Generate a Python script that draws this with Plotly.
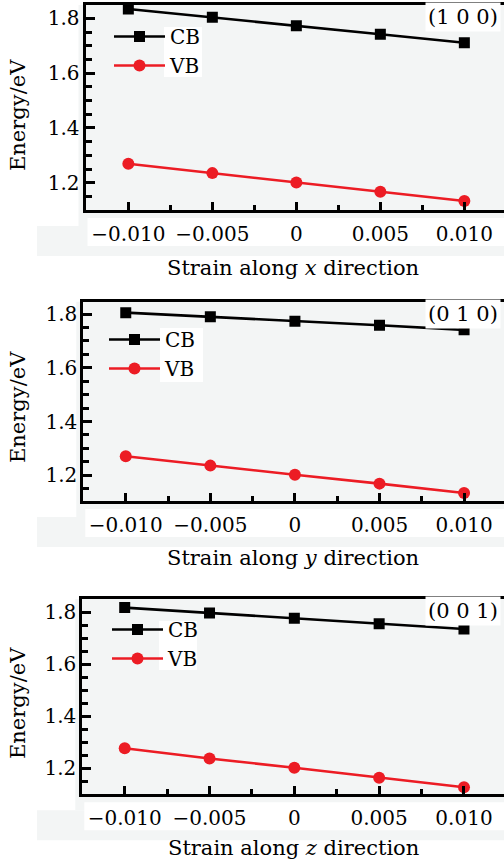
import plotly.graph_objects as go

W, H = 504, 863

# ---- data ----
strain = [-0.010, -0.005, 0.0, 0.005, 0.010]
x_tickvals = [-0.010, -0.005, 0.0, 0.005, 0.010]
x_ticktext = ["\u22120.010", "\u22120.005", "0", "0.005", "0.010"]
y_tickvals = [1.2, 1.4, 1.6, 1.8]
y_ticktext = ["1.2", "1.4", "1.6", "1.8"]

cb_100 = [1.834, 1.804, 1.773, 1.742, 1.711]
vb_100 = [1.269, 1.235, 1.201, 1.167, 1.133]
cb_010 = [1.805, 1.790, 1.773, 1.758, 1.741]
vb_010 = [1.271, 1.236, 1.202, 1.169, 1.134]
cb_001 = [1.818, 1.797, 1.777, 1.756, 1.736]
vb_001 = [1.277, 1.238, 1.202, 1.164, 1.127]

directions = ["x", "y", "z"]
panel_labels = ["(1 0 0)", "(0 1 0)", "(0 0 1)"]
cb_series = [cb_100, cb_010, cb_001]
vb_series = [vb_100, vb_010, vb_001]

# ---- geometry (pixels) ----
panels = [
    dict(left=85.5, top=5, bottom=210, xr=[-0.01255, 0.01236], yr=[1.1004, 1.8486],
         leg=(109, 17), box=(164, 27, 202, 77), title_y=268, ytitle_y=115),
    dict(left=83.3, top=301.7, bottom=501, xr=[-0.01251, 0.01236], yr=[1.1044, 1.8458],
         leg=(104, 320), box=(160, 328, 203, 382), title_y=558, ytitle_y=407),
    dict(left=82.3, top=599, bottom=794.3, xr=[-0.01250, 0.01236], yr=[1.1000, 1.8511],
         leg=(107, 610), box=(159, 621, 197, 670), title_y=848, ytitle_y=703),
]

FONT = "DejaVu Serif"
FS_TICK = 20
FS = 21
FS_LEG = 20
RED = "#ec1c24"
GRAY = "#f3f5f5"


def px_x(x):
    return x / W


def px_y(y):
    return 1 - y / H


fig = go.Figure()
shapes = []
annotations = []

for i, p in enumerate(panels):
    n = "" if i == 0 else str(i + 1)
    xa, ya = "x" + n, "y" + n
    leg = "legend" if i == 0 else "legend" + str(i + 1)

    fig.add_trace(go.Scatter(
        x=strain, y=cb_series[i], mode="lines+markers", name="CB",
        line=dict(color="black", width=2.6),
        marker=dict(symbol="square", size=11, color="black"),
        xaxis=xa, yaxis=ya, legend=leg))
    fig.add_trace(go.Scatter(
        x=strain, y=vb_series[i], mode="lines+markers", name="VB",
        line=dict(color=RED, width=2.6),
        marker=dict(symbol="circle", size=12, color=RED),
        xaxis=xa, yaxis=ya, legend=leg))

    xaxis = dict(
        domain=[px_x(p["left"]), 1], range=p["xr"], anchor=ya,
        showline=True, linewidth=3, linecolor="black", mirror=True,
        ticks="inside", ticklen=8, tickwidth=2.5, tickcolor="black",
        tickmode="array", tickvals=x_tickvals, ticktext=x_ticktext,
        minor=dict(ticks="inside", ticklen=5, tickwidth=2.5, tickcolor="black",
                   tickmode="linear", tick0=0, dtick=0.0025),
        showgrid=False, zeroline=False, ticklabelstandoff=4,
        tickfont=dict(family=FONT, size=FS_TICK, color="black"),
    )
    yaxis = dict(
        domain=[px_y(p["bottom"]), px_y(p["top"])], range=p["yr"], anchor=xa,
        showline=True, linewidth=3, linecolor="black", mirror=False,
        ticks="inside", ticklen=9, tickwidth=2.5, tickcolor="black",
        tickmode="array", tickvals=y_tickvals, ticktext=y_ticktext,
        minor=dict(ticks="inside", ticklen=6, tickwidth=2.5, tickcolor="black",
                   tickmode="linear", tick0=0, dtick=0.05),
        showgrid=False, zeroline=False, ticklabelstandoff=-1,
        tickfont=dict(family=FONT, size=FS_TICK, color="black"),
    )
    fig.update_layout(**{"xaxis" + n: xaxis, "yaxis" + n: yaxis})

    lx, ly = p["leg"]
    fig.update_layout(**{leg: dict(
        x=px_x(lx), y=px_y(ly), xanchor="left", yanchor="top",
        bgcolor="rgba(0,0,0,0)", font=dict(family=FONT, size=FS_LEG, color="black"),
        itemwidth=51, tracegroupgap=0)})

    # background patches (scanned-figure look)
    b = p["bottom"]
    shapes.append(dict(type="rect", xref="paper", yref="paper", layer="below",
                       x0=px_x(37), x1=1, y0=px_y(b + 46), y1=px_y(b + 16),
                       fillcolor=GRAY, line_width=0))
    shapes.append(dict(type="rect", xref="paper", yref="paper", layer="below",
                       x0=px_x(p["left"] - 7), x1=1, y0=px_y(b + 16), y1=px_y(p["top"]),
                       fillcolor=GRAY, line_width=0))
    shapes.append(dict(type="rect", xref="paper", yref="paper", layer="below",
                       x0=px_x(p["left"] + 2), x1=1, y0=px_y(b + 36), y1=px_y(b + 8),
                       fillcolor="white", line_width=0))
    bx0, by0, bx1, by1 = p["box"]
    shapes.append(dict(type="rect", xref="paper", yref="paper", layer="below",
                       x0=px_x(bx0), x1=px_x(bx1), y0=px_y(by1), y1=px_y(by0),
                       fillcolor="white", line_width=0))

    annotations.append(dict(
        xref="paper", yref="paper", x=px_x(501), y=px_y(p["top"] + 12),
        xanchor="right", yanchor="middle", text=panel_labels[i], showarrow=False,
        font=dict(family=FONT, size=FS, color="black"), bgcolor="white", borderpad=2))
    annotations.append(dict(
        xref="paper", yref="paper", x=px_x(293), y=px_y(p["title_y"]),
        xanchor="center", yanchor="middle",
        text="Strain along <i>" + directions[i] + "</i> direction", showarrow=False,
        font=dict(family=FONT, size=FS, color="black")))
    annotations.append(dict(
        xref="paper", yref="paper", x=px_x(18), y=px_y(p["ytitle_y"]),
        xanchor="center", yanchor="middle", textangle=-90,
        text="Energy/eV", showarrow=False,
        font=dict(family=FONT, size=FS, color="black")))

fig.update_layout(
    width=W, height=H, margin=dict(l=0, r=0, t=0, b=0),
    paper_bgcolor="white", plot_bgcolor="rgba(0,0,0,0)",
    shapes=shapes, annotations=annotations, showlegend=True,
)

fig.write_html(
    "out.html",
    config={"displayModeBar": False},
    post_script="document.body.style.margin='0';document.body.style.overflow='hidden';",
)
